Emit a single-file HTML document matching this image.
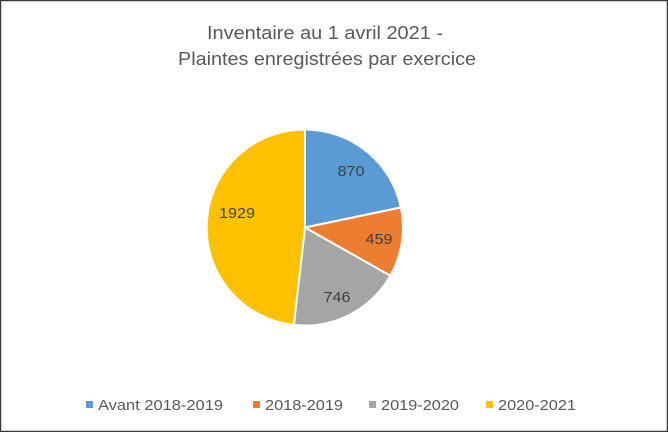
<!DOCTYPE html>
<html><head><meta charset="utf-8"><style>
html,body{margin:0;padding:0;background:#fff}
</style></head><body>
<svg width="668" height="432" xmlns="http://www.w3.org/2000/svg" font-family="Liberation Sans, sans-serif">
<rect x="0.5" y="0.5" width="667" height="431" fill="#fff" stroke="#3a3a3a" stroke-width="1.5"/>
<text x="325" y="39" font-size="18" fill="#595959" text-anchor="middle" textLength="236" lengthAdjust="spacingAndGlyphs">Inventaire au 1 avril 2021 -</text>
<text x="327" y="65" font-size="18" fill="#595959" text-anchor="middle" textLength="298" lengthAdjust="spacingAndGlyphs">Plaintes enregistrées par exercice</text>
<g stroke="#fff" stroke-width="2" stroke-linejoin="round">
<path d="M305,227.5 L305,129.5 A98,98 0 0 1 400.9,207.5 Z" fill="#5b9bd5"/>
<path d="M305,227.5 L400.9,207.5 A98,98 0 0 1 390.3,275.7 Z" fill="#ed7d31"/>
<path d="M305,227.5 L390.3,275.7 A98,98 0 0 1 293.8,324.9 Z" fill="#a5a5a5"/>
<path d="M305,227.5 L293.8,324.9 A98,98 0 0 1 305,129.5 Z" fill="#ffc000"/>
</g>
<g font-size="15" fill="#404040" text-anchor="middle">
<text x="351" y="176" textLength="27" lengthAdjust="spacingAndGlyphs">870</text>
<text x="379" y="244" textLength="27" lengthAdjust="spacingAndGlyphs">459</text>
<text x="337" y="302" textLength="27" lengthAdjust="spacingAndGlyphs">746</text>
<text x="237" y="218" textLength="36" lengthAdjust="spacingAndGlyphs">1929</text>
</g>
<g font-size="15" fill="#595959">
<rect x="86" y="401" width="7" height="7" fill="#5b9bd5"/>
<text x="98" y="410" textLength="125" lengthAdjust="spacingAndGlyphs">Avant 2018-2019</text>
<rect x="253" y="401" width="7" height="7" fill="#ed7d31"/>
<text x="265" y="410" textLength="78" lengthAdjust="spacingAndGlyphs">2018-2019</text>
<rect x="369" y="401" width="7" height="7" fill="#a5a5a5"/>
<text x="381" y="410" textLength="78" lengthAdjust="spacingAndGlyphs">2019-2020</text>
<rect x="486" y="401" width="7" height="7" fill="#ffc000"/>
<text x="498" y="410" textLength="78" lengthAdjust="spacingAndGlyphs">2020-2021</text>
</g>
</svg>
</body></html>
